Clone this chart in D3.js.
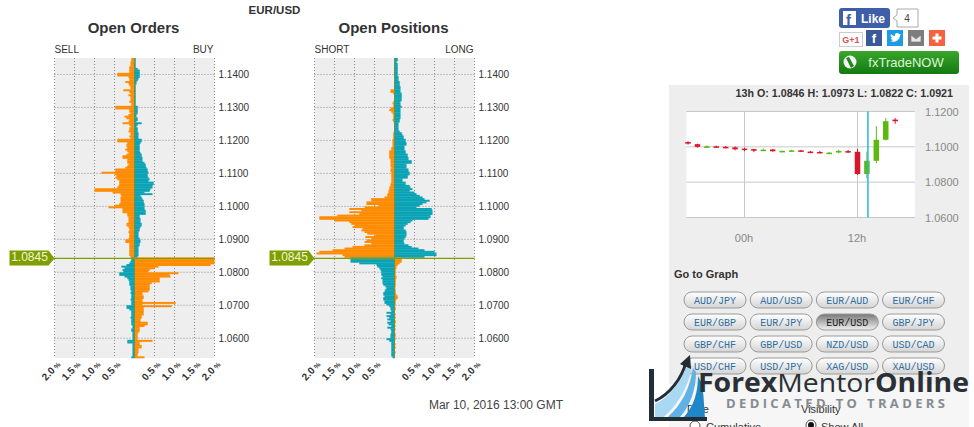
<!DOCTYPE html>
<html>
<head>
<meta charset="utf-8">
<script src="https://cdnjs.cloudflare.com/ajax/libs/d3/7.8.5/d3.min.js"></script>
<style>
  html, body { margin: 0; padding: 0; background: #fff; overflow: hidden; }
  text { font-family: "Liberation Sans", Arial, sans-serif; }
</style>
</head>
<body>
<div id="chart"></div>
<script>
// percent of traders per 0.0005 price bucket, top of the chart first
const ordersSell = [
  .08,.08,.10,.10,.10,.13,.13,.13,.13,.43,
  .43,.15,.13,.13,.23,.15,.13,.10,.10,.28,
  .13,.10,.15,.10,.10,.10,.13,.08,.08,.48,
  .48,.13,.13,.10,.15,.25,.20,.13,.15,.30,
  .13,.10,.13,.13,.15,.10,.10,.13,.10,.43,
  .43,.18,.20,.20,.18,.23,.18,.15,.20,.30,
  .30,.18,.18,.18,.15,.18,.23,.48,.48,.83,
  .50,.45,.48,.43,.38,.38,.38,.40,.43,1.0,
  1.0,.55,.35,.33,.35,.35,.35,.35,.38,.50,
  .65,.30,.30,.30,.18,.18,.15,.15,.15,.15,
  .20,.20,.15,.13,.13,.15,.13,.13,.13,.15,
  .23,.23,.13,.13,.13,.13,.13,.13,.13,.13,
  .10,
  .08,.08,.10,.13,.20,.33,.25,.30,.28,
  .38,.38,.25,.18,.15,.13,.13,.13,.10,.10,
  .10,.08,.10,.08,.08,.08,.10,.08,.08,.08,
  .20,.20,.13,.08,.08,.08,.08,.10,.08,.08,
  .08,.08,.05,.05,.08,.08,.05,.05,.05,.05,
  .05,.18,.18,.05,.05,.05,.05,.05,.05,.05,.05,.08
];
const ordersBuy = [
  .03,.03,.03,.03,.03,.03,.08,.13,.13,.13,
  .13,.13,.10,.08,.05,.05,.03,.03,.03,.03,
  .03,.03,.03,.03,.03,.03,.03,.03,.03,.08,
  .08,.08,.08,.08,.05,.05,.08,.08,.05,.18,
  .08,.05,.08,.08,.08,.10,.10,.10,.10,.18,
  .18,.15,.13,.13,.13,.13,.13,.15,.18,.18,
  .20,.20,.20,.25,.28,.28,.30,.33,.33,.35,
  .33,.33,.35,.38,.35,.48,.48,.45,.45,.40,
  .38,.25,.45,.15,.18,.20,.23,.23,.25,.25,
  .25,.25,.28,.28,.28,.13,.13,.15,.15,.15,
  .18,.18,.15,.13,.13,.10,.10,.10,.10,.13,
  .15,.15,.13,.13,.10,.10,.10,.10,.10,.10,
  .08,
  2,2,2,2,1.9,.60,.50,.38,.35,
  1.1,.88,.90,.63,.63,.63,.43,.38,.38,.38,
  .38,.35,.20,.20,.23,.23,.20,.20,1.03,.20,
  .93,.23,.23,.23,.23,.23,.18,.18,.15,.15,
  .33,.33,.25,.13,.13,.13,.10,.08,.08,.08,
  .08,.45,.13,.13,.18,.18,.10,.10,.10,.08,.08,.25
];
const positionsShort = [
  0,0,0,0,0,0,0,0,0,0,
  0,0,0,0,0,0,0,0,0,.10,
  .10,.03,0,0,0,0,.03,.05,.03,.03,
  .10,.13,.08,.05,.03,.03,.03,.05,.03,0,
  0,0,0,0,0,.03,.03,.03,.03,.05,
  .05,.05,.05,.05,.08,.08,.13,.13,.13,.13,
  .13,.10,.10,.10,.10,.10,.08,.10,.10,.08,
  .08,.08,.08,.08,.08,.08,.10,.10,.13,.13,
  .15,.15,.18,.18,.25,.58,.58,.70,.70,.40,
  .75,1.13,.83,1.13,.88,1.43,1.88,1.88,1.5,1.13,
  1.08,1.0,1.05,.80,.83,.75,.68,.48,.73,.58,
  .70,.75,.58,.75,1.05,1.25,1.55,1.88,1.95,1.3,
  1.25,
  1.1,1.1,1.1,.88,.45,.43,.38,.35,.33,
  .33,.33,.30,.33,.30,.30,.30,.28,.23,.20,
  .23,.25,.28,.28,.25,.28,.28,.25,.25,.20,
  .13,.10,.10,.08,.20,.10,.20,.13,.18,.10,
  .18,.15,.08,.18,.10,.08,.08,.10,.10,.10,
  .20,.13,.08,.08,.08,.08,.08,.08,.08,.08,.08,.05
];
const positionsLong = [
  .08,.08,.05,.08,.08,.08,.08,.08,.08,.08,
  .08,.10,.10,.10,.13,.13,.13,.15,.15,.15,
  .15,.18,.18,.18,.18,.18,.15,.15,.15,.18,
  .15,.15,.15,.15,.15,.15,.15,.13,.13,.10,
  .10,.10,.10,.10,.13,.18,.20,.23,.23,.28,
  .28,.30,.30,.25,.25,.25,.28,.28,.33,.33,
  .35,.35,.43,.43,.30,.30,.30,.35,.35,.38,
  .38,.33,.33,.20,.20,.28,.28,.38,.40,.45,
  .38,.50,.55,.63,.70,.75,.88,.80,.70,.63,
  .55,.93,.95,.95,.95,.90,.90,.85,.45,.40,
  .33,.28,.23,.23,.28,.30,.30,.30,.28,.25,
  .23,.23,.25,.35,.43,.60,.75,1.0,1.05,1.05,
  .75,
  .18,.18,.18,.13,.08,.05,.05,.03,.03,
  .03,.03,.05,.05,.03,.03,.03,.03,.03,0,
  .03,.03,.03,.05,.08,.08,.05,.03,.03,.03,
  0,.03,.03,0,0,.03,0,.03,0,.03,
  .03,0,.03,0,.03,0,0,.03,.03,0,
  .03,0,0,.03,0,.03,0,0,.03,0,0,0
];
const priceTicks = [1.14, 1.13, 1.12, 1.11, 1.10, 1.09, 1.08, 1.07, 1.06];
const percentTicks = [-2, -1.5, -1, -0.5, 0.5, 1, 1.5, 2];
const lastPrice = 1.0845;

// hourly candles, hour relative to 00h
const candleHours = [-6,-5,-4,-3,-2,-1,0,1,2,3,4,5,6,7,8,9,10,11,12,13,14,15,16];
const candleOpen  = [1.1027,1.1015,1.0998,1.1003,1.1000,1.0997,1.0990,1.0987,1.0981,1.0985,1.0974,1.0976,1.0980,1.0973,1.0971,1.0965,1.0968,1.0976,1.0972,1.0846,1.0921,1.1040,1.1154];
const candleHigh  = [1.1032,1.1018,1.1008,1.1007,1.1005,1.1002,1.0995,1.0989,1.0990,1.0988,1.0979,1.0983,1.0983,1.0977,1.0977,1.0971,1.0984,1.0982,1.0989,1.0973,1.1117,1.1163,1.1163];
const candleLow   = [1.1012,1.0995,1.0993,1.0995,1.0992,1.0980,1.0975,1.0970,1.0976,1.0972,1.0971,1.0973,1.0973,1.0965,1.0964,1.0963,1.0964,1.0965,1.0841,1.0822,1.0907,1.1036,1.1130];
const candleClose = [1.1018,1.1000,1.1003,1.0998,1.0997,1.0986,1.0982,1.0978,1.0984,1.0975,1.0977,1.0980,1.0975,1.0969,1.0968,1.0967,1.0977,1.0970,1.0846,1.0921,1.1040,1.1145,1.1145];
const candlePriceTicks = [1.12, 1.10, 1.08, 1.06];
const candleHourTicks = [0, 12];

const pairs = ['AUD/JPY','AUD/USD','EUR/AUD','EUR/CHF','EUR/GBP','EUR/JPY','EUR/USD','GBP/JPY',
               'GBP/CHF','GBP/USD','NZD/USD','USD/CAD','USD/CHF','USD/JPY','XAG/USD','XAU/USD'];

const orange = '#ff8c00';
const teal = '#0aa3b5';
const olive = '#7f9f00';

const svg = d3.select('#chart')
  .append('svg')
    .attr('width', 974)
    .attr('height', 427)
    .style('display', 'block');

const defs = svg.append('defs');
function vGradient(id, top, bottom) {
  const g = defs.append('linearGradient').attr('id', id).attr('x2', 0).attr('y2', 1);
  g.append('stop').attr('offset', 0).attr('stop-color', top);
  g.append('stop').attr('offset', 1).attr('stop-color', bottom);
}
vGradient('pill', '#ffffff', '#d4d4d4');
vGradient('pillOn', '#777777', '#f2f2f2');
vGradient('trade', '#3ba52b', '#137a12');

const y = d3.scaleLinear().domain([1.054, 1.145]).range([358, 58]);
const step = 0.0005;
const aboveRows = 121;

function bookPanel(left, title, leftLabel, rightLabel, leftVals, rightVals) {
  const x = d3.scaleLinear().domain([-2, 2]).range([left, left + 160]);
  const g = svg.append('g');

  g.append('rect')
      .attr('x', x(-2))
      .attr('y', y.range()[1])
      .attr('width', x(2) - x(-2))
      .attr('height', y.range()[0] - y.range()[1])
      .attr('fill', '#eeeeee');

  // dotted grid
  g.selectAll('.gx')
      .data([-2, -1.5, -1, -0.5, 0.5, 1, 1.5, 2])
    .join('line')
      .attr('x1', d => x(d))
      .attr('x2', d => x(d))
      .attr('y1', 58)
      .attr('y2', 358)
      .attr('stroke', '#8a8a8a')
      .attr('stroke-dasharray', '1 2');
  g.selectAll('.gy')
      .data(priceTicks)
    .join('line')
      .attr('x1', x(-2))
      .attr('x2', x(2))
      .attr('y1', d => y(d))
      .attr('y2', d => y(d))
      .attr('stroke', '#8a8a8a')
      .attr('stroke-dasharray', '1 2');

  const rowTop = i => y(1.145 - i * step);
  const rowH = y(1.145 - step) - y(1.145) + 0.3;

  g.selectAll('.lbar')
      .data(leftVals)
    .join('rect')
      .attr('x', d => x(-d))
      .attr('y', (_, i) => rowTop(i))
      .attr('width', d => x(0) - x(-d))
      .attr('height', rowH)
      .attr('fill', (_, i) => i < aboveRows ? orange : teal);

  g.selectAll('.rbar')
      .data(rightVals)
    .join('rect')
      .attr('x', x(0))
      .attr('y', (_, i) => rowTop(i))
      .attr('width', d => x(d) - x(0))
      .attr('height', rowH)
      .attr('fill', (_, i) => i < aboveRows ? teal : orange);

  // centre line
  g.append('line')
      .attr('x1', x(0))
      .attr('x2', x(0))
      .attr('y1', 58)
      .attr('y2', 358)
      .attr('stroke', '#6f9440');

  // price line and flag
  const lineY = y(lastPrice) + 1;
  g.append('line')
      .attr('x1', left - 2)
      .attr('x2', x(2))
      .attr('y1', lineY)
      .attr('y2', lineY)
      .attr('stroke', olive)
      .attr('stroke-width', 1.2);
  g.append('path')
      .attr('d', `M${left - 45},${lineY - 8}H${left - 6}L${left},${lineY}L${left - 6},${lineY + 7}H${left - 45}Z`)
      .attr('fill', olive);
  g.append('text')
      .attr('x', left - 25)
      .attr('y', lineY + 3)
      .attr('text-anchor', 'middle')
      .attr('font-size', '12px')
      .attr('fill', '#f1f6d8')
      .text(d3.format('.4f')(lastPrice));

  // axes
  g.append('g')
      .attr('transform', `translate(${x(2)},0)`)
      .call(d3.axisRight(y).tickValues(priceTicks).tickFormat(d3.format('.4f')).tickSize(0).tickPadding(4))
      .call(a => a.select('.domain').remove())
      .selectAll('text')
      .attr('font-size', '10px')
      .attr('font-family', '"Liberation Sans", Arial, sans-serif')
      .attr('fill', '#333');

  g.append('g')
      .attr('transform', 'translate(0,358)')
      .call(d3.axisBottom(x).tickValues(percentTicks).tickFormat(d => d3.format('.1f')(Math.abs(d))).tickSize(0).tickPadding(0))
      .call(a => a.select('.domain').remove())
      .selectAll('text')
      .attr('font-size', '10px')
      .attr('font-weight', 'bold')
      .attr('font-family', '"Liberation Sans", Arial, sans-serif')
      .attr('fill', '#333')
      .attr('text-anchor', 'end')
      .attr('dy', 0)
      .attr('y', 0)
      .attr('transform', 'translate(6,7) rotate(-47)')
      .append('tspan')
      .attr('font-size', '7px')
      .text(' %');

  g.append('text')
      .attr('x', left + 79)
      .attr('y', 33)
      .attr('text-anchor', 'middle')
      .attr('font-size', '15px')
      .attr('font-weight', 'bold')
      .attr('fill', '#333')
      .text(title);
  g.append('text')
      .attr('x', left)
      .attr('y', 53)
      .attr('font-size', '10px')
      .attr('fill', '#333')
      .text(leftLabel);
  g.append('text')
      .attr('x', left + 159)
      .attr('y', 53)
      .attr('text-anchor', 'end')
      .attr('font-size', '10px')
      .attr('fill', '#333')
      .text(rightLabel);
}

bookPanel(54.5, 'Open Orders', 'SELL', 'BUY', ordersSell, ordersBuy);
bookPanel(314.5, 'Open Positions', 'SHORT', 'LONG', positionsShort, positionsLong);

svg.append('text')
    .attr('x', 274.5)
    .attr('y', 14)
    .attr('text-anchor', 'middle')
    .attr('font-size', '11.5px')
    .attr('font-weight', 'bold')
    .attr('fill', '#333')
    .text('EUR/USD');

svg.append('text')
    .attr('x', 563)
    .attr('y', 409)
    .attr('text-anchor', 'end')
    .attr('font-size', '12px')
    .attr('fill', '#444')
    .text('Mar 10, 2016 13:00 GMT');

// side panel
svg.append('rect')
    .attr('x', 669)
    .attr('y', 85)
    .attr('width', 300)
    .attr('height', 342)
    .attr('fill', '#eeeeee');
svg.append('rect')
    .attr('x', 669)
    .attr('y', 384)
    .attr('width', 300)
    .attr('height', 43)
    .attr('fill', '#f6f6f6');

svg.append('text')
    .attr('x', 953)
    .attr('y', 97)
    .attr('text-anchor', 'end')
    .attr('font-size', '10.7px')
    .attr('font-weight', 'bold')
    .attr('fill', '#333')
    .text('13h O: 1.0846 H: 1.0973 L: 1.0822 C: 1.0921');

const cy = d3.scaleLinear().domain([1.06, 1.12]).range([217.5, 111.5]);
const cx = d3.scaleLinear().domain([0, 12]).range([744.5, 857.5]);
const candleBox = { left: 686.5, right: 915 };

svg.append('rect')
    .attr('x', candleBox.left)
    .attr('y', cy(1.12))
    .attr('width', candleBox.right - candleBox.left)
    .attr('height', cy(1.06) - cy(1.12))
    .attr('fill', '#fff');

svg.selectAll('.cgy')
    .data(candlePriceTicks)
  .join('line')
    .attr('x1', candleBox.left)
    .attr('x2', candleBox.right)
    .attr('y1', d => cy(d))
    .attr('y2', d => cy(d))
    .attr('stroke', '#c8c8c8');
svg.selectAll('.cgx')
    .data(candleHourTicks)
  .join('line')
    .attr('x1', d => cx(d))
    .attr('x2', d => cx(d))
    .attr('y1', cy(1.12))
    .attr('y2', cy(1.06))
    .attr('stroke', '#c8c8c8');

const candleColor = i => candleClose[i] >= candleOpen[i] ? '#5cb80e' : '#dd1428';

svg.selectAll('.wick')
    .data(candleHours)
  .join('line')
    .attr('x1', d => cx(d))
    .attr('x2', d => cx(d))
    .attr('y1', (_, i) => cy(candleHigh[i]))
    .attr('y2', (_, i) => cy(candleLow[i]))
    .attr('stroke', (_, i) => candleColor(i));
svg.selectAll('.body')
    .data(candleHours)
  .join('rect')
    .attr('x', d => cx(d) - 2.75)
    .attr('width', 5.5)
    .attr('y', (_, i) => cy(Math.max(candleOpen[i], candleClose[i])))
    .attr('height', (_, i) => Math.max(1.5, Math.abs(cy(candleOpen[i]) - cy(candleClose[i]))))
    .attr('fill', (_, i) => candleColor(i));

// cursor on the selected 13h candle
svg.append('line')
    .attr('x1', cx(13) + 1)
    .attr('x2', cx(13) + 1)
    .attr('y1', cy(1.12))
    .attr('y2', cy(1.06))
    .attr('stroke', '#27b8d8')
    .attr('stroke-width', 1.5);

svg.append('g')
    .attr('transform', `translate(${candleBox.right},0)`)
    .call(d3.axisRight(cy).tickValues(candlePriceTicks).tickFormat(d3.format('.4f')).tickSize(0).tickPadding(10))
    .call(a => a.select('.domain').remove())
    .selectAll('text')
    .attr('font-size', '11px')
    .attr('font-family', '"Liberation Sans", Arial, sans-serif')
    .attr('fill', '#888');

svg.append('g')
    .attr('transform', 'translate(-1,234)')
    .call(d3.axisBottom(cx).tickValues(candleHourTicks).tickFormat(d => d3.format('02')(d) + 'h').tickSize(0).tickPadding(0))
    .call(a => a.select('.domain').remove())
    .selectAll('text')
    .attr('font-size', '11px')
    .attr('font-family', '"Liberation Sans", Arial, sans-serif')
    .attr('fill', '#888');

svg.append('text')
    .attr('x', 674)
    .attr('y', 278)
    .attr('font-size', '11px')
    .attr('font-weight', 'bold')
    .attr('fill', '#333')
    .text('Go to Graph');

// pair buttons
const pillW = 62, pillH = 16;
const pillX = d3.scalePoint().domain(d3.range(4)).range([715, 913.5]);
const pillY = d3.scalePoint().domain(d3.range(4)).range([300, 366]);
const pill = svg.selectAll('.pill')
    .data(pairs)
  .join('g')
    .attr('transform', (_, i) => `translate(${pillX(i % 4)},${pillY(Math.floor(i / 4))})`);
pill.append('rect')
    .attr('x', -pillW / 2)
    .attr('y', -pillH / 2)
    .attr('width', pillW)
    .attr('height', pillH)
    .attr('rx', 8)
    .attr('fill', d => d === 'EUR/USD' ? 'url(#pillOn)' : 'url(#pill)')
    .attr('stroke', '#9a9a9a');
pill.append('text')
    .attr('y', 3.5)
    .attr('text-anchor', 'middle')
    .attr('font-size', '10px')
    .style('font-family', '"Liberation Mono", monospace')
    .attr('fill', d => d === 'EUR/USD' ? '#222' : '#2f6f9f')
    .text(d => d);

// options under the buttons, mostly covered by the logo
svg.append('text').attr('x', 685).attr('y', 413).attr('font-size', '11px').attr('fill', '#333').text('Type');
svg.append('text').attr('x', 801).attr('y', 413).attr('font-size', '11px').attr('fill', '#333').text('Visibility');
svg.append('text').attr('x', 706).attr('y', 431).attr('font-size', '11px').attr('fill', '#333').text('Cumulative');
svg.append('text').attr('x', 821).attr('y', 431).attr('font-size', '11px').attr('fill', '#333').text('Show All');
svg.append('circle').attr('cx', 695).attr('cy', 426).attr('r', 5).attr('fill', '#fff').attr('stroke', '#555');
svg.append('circle').attr('cx', 811).attr('cy', 425).attr('r', 5).attr('fill', '#fff').attr('stroke', '#555');
svg.append('circle').attr('cx', 811).attr('cy', 425).attr('r', 3).attr('fill', '#111');

// watermark logo
svg.append('path').attr('d', 'M655,404C668,398 680,384 688,364L692,366C688,388 678,404 664,417H655Z').attr('fill', '#a9d8f2');
svg.append('path').attr('d', 'M668,417C682,404 690,388 693,368L696,372C696,390 690,406 680,417Z').attr('fill', '#5fb2e6');
svg.append('path').attr('d', 'M684,417C694,406 698,392 698,376L702,384C704,396 704,408 705,417Z').attr('fill', '#1f86c8');
svg.append('path').attr('d', 'M655,401C670,394 682,378 686,362').attr('fill', 'none').attr('stroke', '#222d36').attr('stroke-width', 3);
svg.append('path').attr('d', 'M680,364L690,355L691,369Z').attr('fill', '#222d36');
svg.append('path').attr('d', 'M649,369H654V417H707V421H649Z').attr('fill', '#222d36');
const logo = svg.append('text')
    .attr('x', 698)
    .attr('y', 392)
    .attr('font-size', '26px')
    .attr('textLength', 271)
    .attr('lengthAdjust', 'spacingAndGlyphs')
    .attr('fill', '#2a3036')
    .style('font-family', '"Open Sans", sans-serif');
logo.append('tspan').attr('font-weight', 'bold').text('Forex');
logo.append('tspan').text('Mentor');
logo.append('tspan').attr('font-weight', 'bold').text('Online');
svg.append('text')
    .attr('x', 726)
    .attr('y', 408)
    .attr('font-size', '13px')
    .attr('font-weight', 'bold')
    .attr('textLength', 219)
    .attr('fill', '#858b90')
    .style('font-family', '"Open Sans", sans-serif')
    .text('DEDICATED TO TRADERS');

// share buttons
svg.append('rect').attr('x', 839).attr('y', 8).attr('width', 51).attr('height', 20).attr('rx', 3).attr('fill', '#3f5ea8');
svg.append('rect').attr('x', 843).attr('y', 11).attr('width', 13).attr('height', 14).attr('fill', '#fff');
svg.append('text').attr('x', 846).attr('y', 25).attr('font-size', '15px').attr('font-weight', 'bold').attr('fill', '#3f5ea8').text('f');
svg.append('text').attr('x', 861).attr('y', 23).attr('font-size', '12px').attr('font-weight', 'bold').attr('fill', '#fff').text('Like');
svg.append('path').attr('d', 'M897,9H918V27H897V21L893,18L897,15Z').attr('fill', '#fff').attr('stroke', '#aaa');
svg.append('text').attr('x', 907).attr('y', 22).attr('text-anchor', 'middle').attr('font-size', '10px').attr('fill', '#444').text('4');

svg.append('rect').attr('x', 839.5).attr('y', 32.5).attr('width', 23).attr('height', 14).attr('fill', '#fff').attr('stroke', '#ccc');
svg.append('text').attr('x', 851).attr('y', 43).attr('text-anchor', 'middle').attr('font-size', '9px').attr('font-weight', 'bold').attr('fill', '#d9534f').text('G+1');
svg.append('rect').attr('x', 866).attr('y', 30).attr('width', 16).attr('height', 16).attr('fill', '#3b5998');
svg.append('text').attr('x', 874).attr('y', 43).attr('text-anchor', 'middle').attr('font-size', '13px').attr('font-weight', 'bold').attr('fill', '#fff').text('f');
svg.append('rect').attr('x', 887).attr('y', 30).attr('width', 16).attr('height', 16).attr('fill', '#1c9ce6');
svg.append('path').attr('d', 'M890,41C894,43 900,41 900,35L901,34L899,34C898,32 894,33 895,36C893,36 892,35 891,34C890,36 891,37 892,38L891,38C891,39 892,40 893,40C892,41 891,41 890,41Z').attr('fill', '#fff');
svg.append('rect').attr('x', 908).attr('y', 30).attr('width', 16).attr('height', 16).attr('fill', '#7d7d7d');
svg.append('path').attr('d', 'M911,35H921V42H911ZM911,35L916,39L921,35').attr('fill', '#e8e8e8').attr('stroke', '#7d7d7d').attr('stroke-width', 0.7);
svg.append('rect').attr('x', 929).attr('y', 30).attr('width', 16).attr('height', 16).attr('fill', '#f4623f');
svg.append('path').attr('d', 'M935.5,33.5h3v3h3v3h-3v3h-3v-3h-3v-3h3Z').attr('fill', '#fff');

svg.append('rect').attr('x', 839).attr('y', 51).attr('width', 120).attr('height', 23).attr('rx', 3).attr('fill', 'url(#trade)');
svg.append('circle').attr('cx', 850).attr('cy', 62).attr('r', 6.5).attr('fill', '#f4f4f4');
svg.append('path').attr('d', 'M846,58L851,68L854,66L849,57Z').attr('fill', '#1c8a1a');
svg.append('text').attr('x', 906).attr('y', 67).attr('text-anchor', 'middle').attr('font-size', '13px').attr('fill', '#dcf5d6').text('fxTradeNOW');
</script>
</body>
</html>
